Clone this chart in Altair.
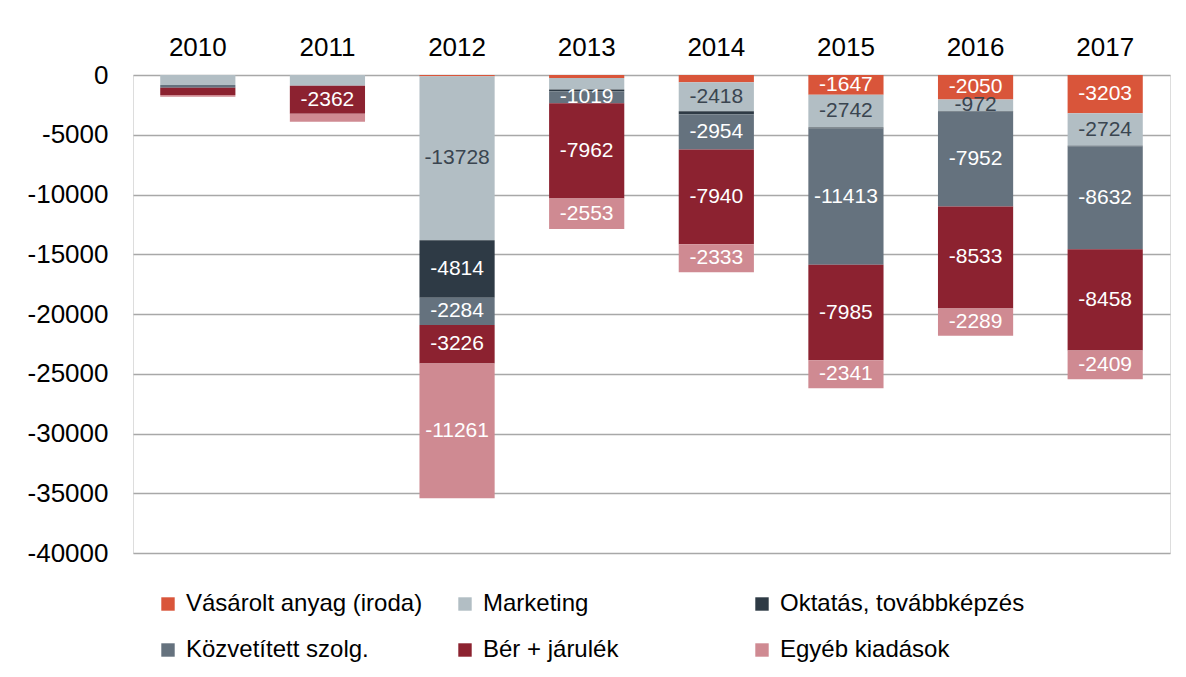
import altair as alt
import pandas as pd

years = ["2010", "2011", "2012", "2013", "2014", "2015", "2016", "2017"]
series = ["Vásárolt anyag (iroda)", "Marketing", "Oktatás, továbbképzés",
          "Közvetített szolg.", "Bér + járulék", "Egyéb kiadások"]
colors = ["#d9553a", "#b2bec4", "#2e3a45", "#65727e", "#8c2230", "#cf8a92"]

vasarolt = [0, 0, -100, -250, -610, -1647, -2050, -3203]
marketing = [-840, -890, -13728, -960, -2418, -2742, -972, -2724]
oktatas = [0, 0, -4814, -140, -250, -80, -30, -30]
kozvetitett = [-220, 0, -2284, -1019, -2954, -11413, -7952, -8632]
ber = [-620, -2362, -3226, -7962, -7940, -7985, -8533, -8458]
egyeb = [-140, -670, -11261, -2553, -2333, -2341, -2289, -2409]

values = [vasarolt, marketing, oktatas, kozvetitett, ber, egyeb]
rows = []
for si, (name, vals) in enumerate(zip(series, values)):
    for y, v in zip(years, vals):
        rows.append({"year": y, "series": name, "order": si, "value": v})
df = pd.DataFrame(rows)

FONT = "Liberation Sans"

base = alt.Chart(df)

x = alt.X("year:N", title=None, sort=years,
          scale=alt.Scale(paddingInner=0.42, paddingOuter=0.21),
          axis=alt.Axis(orient="top", labelAngle=0, domain=False, ticks=False,
                        labelFontSize=26, labelPadding=15, labelColor="#000000",
                        labelFont=FONT))

bars = base.mark_bar().encode(
    x=x,
    y=alt.Y("value:Q", title=None, stack="zero",
            scale=alt.Scale(domain=[-40000, 0], nice=False),
            axis=alt.Axis(values=list(range(-40000, 1, 5000)), domain=False, ticks=False,
                          gridColor="#a8a8a8", gridWidth=1.3, labelFontSize=26,
                          labelPadding=25, labelColor="#000000", labelFont=FONT,
                          labelExpr="datum.value + ''")),
    color=alt.Color("series:N", scale=alt.Scale(domain=series, range=colors),
                    legend=alt.Legend(title=None, orient="none", legendX=23, legendY=517,
                                      columns=3, direction="horizontal", gridAlign="all",
                                      columnPadding=22, rowPadding=22,
                                      symbolType="square", symbolSize=180,
                                      symbolStrokeWidth=0, symbolOffset=0,
                                      labelOffset=6, labelFontSize=24, labelFont=FONT,
                                      labelColor="#000000", labelLimit=400)),
    order=alt.Order("order:Q", sort="ascending"),
)

labels = base.transform_stack(
    stack="value", groupby=["year"], sort=[alt.SortField("order", "ascending")],
    as_=["y0", "y1"]
).transform_calculate(
    mid="(datum.y0 + datum.y1) / 2",
    lab="datum.value + ''",
    dark="datum.series == 'Marketing' ? 1 : 0"
).transform_filter("datum.value <= -970").mark_text(
    font=FONT, fontSize=21, baseline="middle", align="center"
).encode(
    x=alt.X("year:N", sort=years),
    y=alt.Y("mid:Q"),
    text="lab:N",
    color=alt.condition("datum.dark == 1", alt.value("#3a4550"), alt.value("#ffffff")),
)

chart = alt.layer(bars, labels).properties(
    width=1037, height=478,
    autosize=alt.AutoSizeParams(type="none"),
    padding={"left": 125, "top": 67, "right": 8, "bottom": 116},
).configure_view(stroke=None).configure(background="#ffffff")

chart.save("out.html", embed_options={"renderer": "svg", "actions": False})
